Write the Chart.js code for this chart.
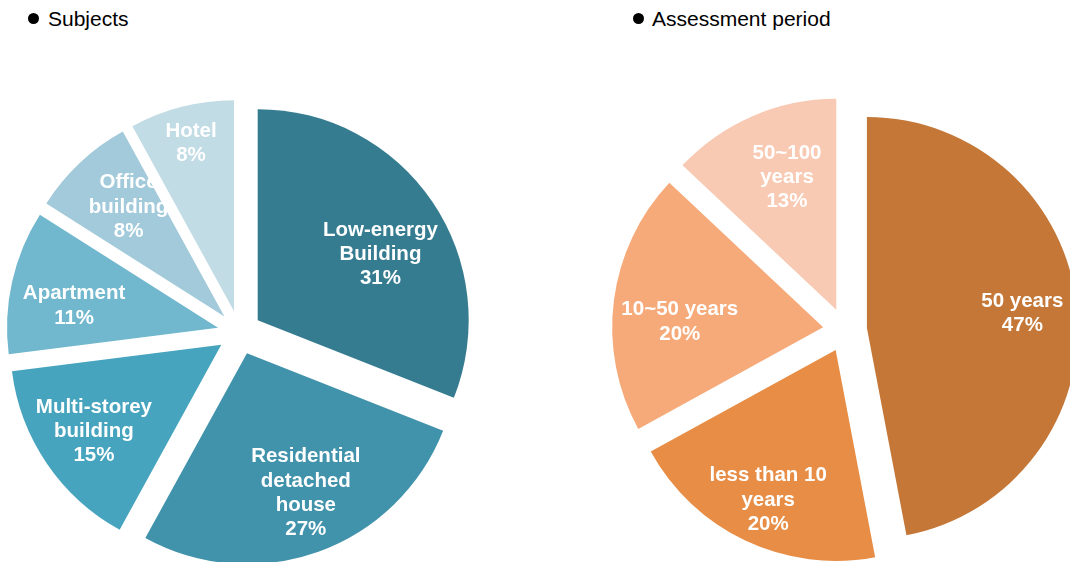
<!DOCTYPE html>
<html>
<head>
<meta charset="utf-8">
<script src="https://cdn.jsdelivr.net/npm/chart.js@4"></script>
<style>
  html, body { margin: 0; padding: 0; width: 1070px; height: 562px; overflow: hidden; background: #fff; }
  .title { position: absolute; top: 8px; font: 21px "Liberation Sans", Arial, sans-serif; line-height: 21px; color: #000; white-space: nowrap; }
  .dot { position: absolute; top: 13px; width: 11px; height: 11px; border-radius: 50%; background: #000; }
  canvas { position: absolute; top: 0; }
</style>
</head>
<body>
<div class="dot" style="left:28px"></div>
<div class="title" style="left:48px">Subjects</div>
<div class="dot" style="left:633px"></div>
<div class="title" style="left:652px">Assessment period</div>

<canvas id="subjectChart" width="479" height="665" style="left:0px"></canvas>
<canvas id="periodChart" width="500" height="660" style="left:595px"></canvas>

<script>
// データ
const subjectLabels = [['Low-energy', 'Building'], ['Residential', 'detached', 'house'], ['Multi-storey', 'building'], ['Apartment'], ['Office', 'building'], ['Hotel']];
const subjectValues = [31, 27, 15, 11, 8, 8];
const subjectColors = ['#357C90', '#4192AB', '#47A4BE', '#71B7CE', '#A2CADA', '#C2DCE5'];

const periodLabels = [['50 years'], ['less than 10', 'years'], ['10~50 years'], ['50~100', 'years']];
const periodValues = [47, 20, 20, 13];
const periodColors = ['#C47737', '#E78D45', '#F6AA79', '#F8CAB3'];

// 扇形を中心から外へずらす
const explodePlugin = {
    id: 'explode',
    afterDatasetsUpdate(chart, args, opts) {
        chart.getDatasetMeta(0).data.forEach(arc => {
            const mid = (arc.startAngle + arc.endAngle) / 2;
            arc.x += Math.cos(mid) * opts.distance;
            arc.y += Math.sin(mid) * opts.distance;
        });
    }
};

// 扇形の中のラベル
const sliceLabelPlugin = {
    id: 'sliceLabels',
    afterDatasetsDraw(chart, args, opts) {
        const ctx = chart.ctx;
        const meta = chart.getDatasetMeta(0);
        const values = chart.data.datasets[0].data;
        ctx.save();
        ctx.font = 'bold 20.5px "Liberation Sans", Arial, sans-serif';
        ctx.fillStyle = '#fff';
        ctx.textAlign = 'center';
        ctx.textBaseline = 'middle';
        meta.data.forEach((arc, i) => {
            const mid = (arc.startAngle + arc.endAngle) / 2 + opts.shift[i] * Math.PI / 180;
            const r = arc.outerRadius * opts.radius[i];
            const x = arc.x + Math.cos(mid) * r;
            const y = arc.y + Math.sin(mid) * r;
            const lines = [].concat(chart.data.labels[i], values[i] + '%');
            lines.forEach((t, k) => {
                ctx.fillText(t, x, y + (k - (lines.length - 1) / 2) * 24.3);
            });
        });
        ctx.restore();
    }
};

function makePie(id, labels, values, colors, labelRadius, labelShift) {
    return new Chart(document.getElementById(id), {
        type: 'pie',
        data: {
            labels: labels,
            datasets: [{
                data: values,
                backgroundColor: colors,
                borderWidth: 0
            }]
        },
        plugins: [explodePlugin, sliceLabelPlugin],
        options: {
            responsive: false,
            animation: false,
            radius: 211,
            layout: { padding: 0 },
            plugins: {
                legend: { display: false },
                tooltip: { enabled: false },
                explode: { distance: 22 },
                sliceLabels: { radius: labelRadius, shift: labelShift }
            }
        }
    });
}

makePie('subjectChart', subjectLabels, subjectValues, subjectColors,
    [0.66, 0.72, 0.73, 0.69, 0.69, 0.82], [6, -3, 0, -4, 2, 0]);
makePie('periodChart', periodLabels, periodValues, periodColors,
    [0.74, 0.78, 0.68, 0.67], [0, -1, -5, 3]);
</script>
</body>
</html>
